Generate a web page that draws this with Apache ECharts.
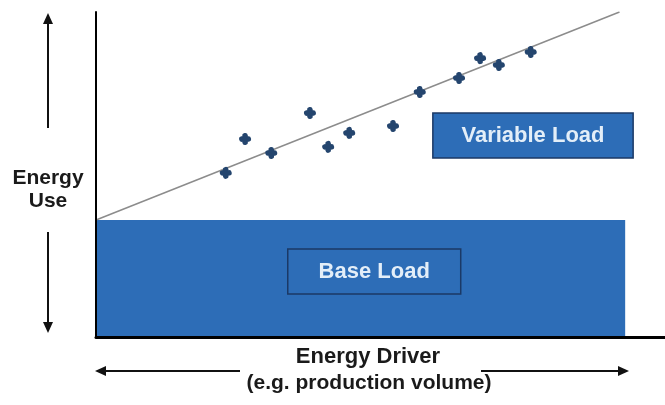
<!DOCTYPE html>
<html>
<head>
<meta charset="utf-8">
<script src="https://cdn.jsdelivr.net/npm/echarts@6/dist/echarts.min.js"></script>
<style>html,body{margin:0;padding:0;background:#fff}#c{width:665px;height:405px}</style>
</head>
<body>
<div id="c"></div>
<script>
// Data (driver units 0..100, energy units 0..100)
var driverValues = [22.8, 26.2, 30.8, 37.6, 40.8, 44.5, 52.2, 56.9, 63.8, 67.5, 70.8, 76.4];
var energyValues = [50.5, 60.9, 56.6, 68.9, 58.5, 62.8, 64.9, 75.4, 79.7, 85.8, 83.7, 87.7];
var baseLoad = 36;
var driverMax = 93;
var trendDriver = [0, 92];
var trendEnergy = [36, 100];
var labels = ["Variable Load", "Base Load"];
var xTitle = ["Energy Driver", "(e.g. production volume)"];
var yTitle = ["Energy", "Use"];

var points = driverValues.map(function (d, i) { return [d, energyValues[i]]; });
var trend = trendDriver.map(function (d, i) { return [d, trendEnergy[i]]; });

var clover = 'path://M-2.56,-2.56 A2.6,2.6 0 1,1 2.56,-2.56 A2.6,2.6 0 1,1 2.56,2.56 A2.6,2.6 0 1,1 -2.56,2.56 A2.6,2.6 0 1,1 -2.56,-2.56 Z';

var blue = '#2d6db7';
var boxBorder = '#1b3966';
var light = '#e3eef8';

var chart = echarts.init(document.getElementById('c'), null, {renderer: 'canvas'});
chart.setOption({
  animation: false,
  backgroundColor: '#ffffff',
  grid: {left: 96, right: 0, top: 12, bottom: 68},
  xAxis: {
    type: 'value', min: 0, max: 100, z: 10,
    axisLine: {show: true, lineStyle: {color: '#000', width: 3}},
    axisTick: {show: false}, axisLabel: {show: false}, splitLine: {show: false}
  },
  yAxis: {
    type: 'value', min: 0, max: 100, z: 10,
    axisLine: {show: true, lineStyle: {color: '#000', width: 2}},
    axisTick: {show: false}, axisLabel: {show: false}, splitLine: {show: false}
  },
  series: [
    {
      type: 'line', data: [], silent: true,
      markArea: {
        silent: true,
        data: [
          [{xAxis: 0, yAxis: 0, itemStyle: {color: blue, borderWidth: 0}}, {xAxis: driverMax, yAxis: baseLoad}],
          [{xAxis: 33.7, yAxis: 13.2, name: labels[1], itemStyle: {color: blue, borderColor: boxBorder, borderWidth: 1.5}}, {xAxis: 64.1, yAxis: 27.1}],
          [{xAxis: 59.2, yAxis: 55.1, name: labels[0], itemStyle: {color: blue, borderColor: boxBorder, borderWidth: 1.5}}, {xAxis: 94.4, yAxis: 68.9}]
        ],
        label: {show: true, position: 'inside', color: light, fontFamily: 'Liberation Sans', fontWeight: 'bold', fontSize: 22},
        itemStyle: {color: blue, opacity: 1}
      }
    },
    {
      type: 'line', data: trend, symbol: 'none', silent: true,
      lineStyle: {color: '#8c8c8c', width: 1.5}, z: 3
    },
    {
      type: 'scatter', data: points, symbol: clover, symbolSize: 12, z: 4,
      itemStyle: {color: '#24456e', opacity: 1}
    }
  ],
  graphic: [
    // vertical arrows
    {type: 'line', shape: {x1: 48, y1: 22, x2: 48, y2: 128}, style: {stroke: '#111', lineWidth: 2}},
    {type: 'polygon', shape: {points: [[48, 13], [43, 24], [53, 24]]}, style: {fill: '#111'}},
    {type: 'line', shape: {x1: 48, y1: 232, x2: 48, y2: 324}, style: {stroke: '#111', lineWidth: 2}},
    {type: 'polygon', shape: {points: [[48, 333], [43, 322], [53, 322]]}, style: {fill: '#111'}},
    // horizontal arrows
    {type: 'line', shape: {x1: 104, y1: 371, x2: 240, y2: 371}, style: {stroke: '#111', lineWidth: 2}},
    {type: 'polygon', shape: {points: [[95, 371], [106, 366], [106, 376]]}, style: {fill: '#111'}},
    {type: 'line', shape: {x1: 481, y1: 371, x2: 619, y2: 371}, style: {stroke: '#111', lineWidth: 2}},
    {type: 'polygon', shape: {points: [[629, 371], [618, 366], [618, 376]]}, style: {fill: '#111'}},
    // axis titles
    {type: 'text', x: 48, y: 178, style: {text: yTitle[0], fill: '#1a1a1a', font: 'bold 21px "Liberation Sans"', textAlign: 'center', textVerticalAlign: 'middle'}},
    {type: 'text', x: 48, y: 201, style: {text: yTitle[1], fill: '#1a1a1a', font: 'bold 21px "Liberation Sans"', textAlign: 'center', textVerticalAlign: 'middle'}},
    {type: 'text', x: 368, y: 357, style: {text: xTitle[0], fill: '#1a1a1a', font: 'bold 22px "Liberation Sans"', textAlign: 'center', textVerticalAlign: 'middle'}},
    {type: 'text', x: 369, y: 383, style: {text: xTitle[1], fill: '#1a1a1a', font: 'bold 21px "Liberation Sans"', textAlign: 'center', textVerticalAlign: 'middle'}}
  ]
});
</script>
</body>
</html>
